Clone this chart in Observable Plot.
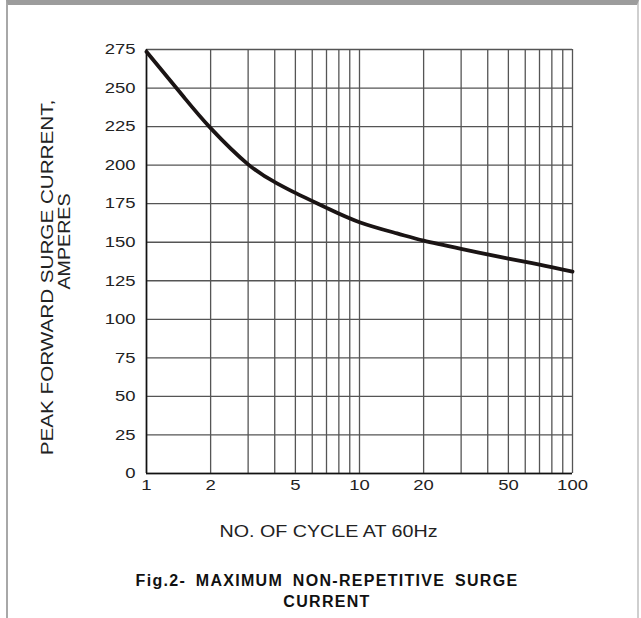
<!DOCTYPE html>
<html>
<head>
<meta charset="utf-8">
<script src="https://cdn.jsdelivr.net/npm/d3@7"></script>
<script src="https://cdn.jsdelivr.net/npm/@observablehq/plot@0.6"></script>
<style>
  html, body { margin: 0; padding: 0; background: #fff; }
  body { width: 641px; height: 618px; position: relative; overflow: hidden; font-family: "Liberation Sans", Arial, sans-serif; }
  #frame { position: absolute; left: 6px; top: 0; width: 629px; height: 640px; border-top: 5px solid #9c9c9c; border-left: 2px solid #a8a8a8; border-right: 2px solid #cfcfcf; pointer-events: none; }
  #chart { position: absolute; left: 0; top: 0; }
  #title { position: absolute; left: 0; width: 654px; top: 570px; text-align: center; font-weight: bold; font-size: 16px; letter-spacing: 1.3px; line-height: 21px; color: #111; }
  #title .w { word-spacing: 4px; }
</style>
</head>
<body>
<div id="chart"></div>
<div id="title"><span class="w">Fig.2-&nbsp;MAXIMUM NON-REPETITIVE SURGE</span><br>CURRENT</div>
<div id="frame"></div>
<script>
const cycles  = [1, 1.5, 2, 3, 4, 5, 7, 10, 15, 20, 30, 50, 70, 100];
const current = [273.5, 244, 224, 200.5, 189, 182, 172.3, 163, 155.7, 151, 145.7, 139.4, 135.5, 131];
const xGrid = [1, 2, 3, 4, 5, 6, 7, 8, 9, 10, 20, 30, 40, 50, 60, 70, 80, 90, 100];
const xTickLabels = [1, 2, 5, 10, 20, 50, 100];
const yTicks = [0, 25, 50, 75, 100, 125, 150, 175, 200, 225, 250, 275];
const xTitle = "NO. OF CYCLE AT 60Hz";
const yTitle1 = "PEAK FORWARD SURGE CURRENT,";
const yTitle2 = "AMPERES";

const data = cycles.map((c, i) => ({c, v: current[i]}));

const chart = Plot.plot({
  width: 641,
  height: 560,
  marginTop: 49,
  marginLeft: 146,
  marginRight: 69,
  marginBottom: 87,
  style: {fontFamily: "'Liberation Sans', Arial, sans-serif", fontSize: "15px", color: "#222", background: "transparent"},
  x: {type: "log", domain: [1, 100], axis: null},
  y: {domain: [0, 275]},
  marks: [
    Plot.ruleX(xGrid, {x: d => d, stroke: "#555", strokeWidth: 1.3}),
    Plot.ruleY(yTicks, {y: d => d, stroke: "#555", strokeWidth: 1.3}),
    Plot.ruleX([1], {stroke: "#111", strokeWidth: 1.6}),
    Plot.ruleY([0], {stroke: "#111", strokeWidth: 1.6}),
    Plot.line(data, {x: "c", y: "v", stroke: "#1a1414", strokeWidth: 3.8, curve: "natural"}),
    Plot.axisY(yTicks, {tickSize: 0, tickPadding: 11, label: null, fontSize: 15, tickFormat: d => d}),
    Plot.text(xTickLabels, {x: d => d, frameAnchor: "bottom", dy: 16, fontSize: 15, text: d => String(d), fill: "#222"}),
    Plot.text([xTitle], {frameAnchor: "bottom", dx: -31, dy: 63, fontSize: 16, text: d => d, fill: "#222"}),
    Plot.text([yTitle1], {frameAnchor: "middle", dx: -312, dy: 16, rotate: -90, fontSize: 16, text: d => d, fill: "#222", className: "ytitle1"}),
    Plot.text([yTitle2], {frameAnchor: "middle", dx: -295, dy: -20, rotate: -90, fontSize: 16, text: d => d, fill: "#222"})
  ]
});
document.getElementById("chart").appendChild(chart);
// stretch glyphs horizontally like the reference's expanded lettering
chart.querySelectorAll("text").forEach(el => {
  const w = el.getComputedTextLength();
  if (w > 0) {
    const k = el.textContent === yTitle1 ? 1.29 : 1.23;
    el.setAttribute("textLength", (w * k).toFixed(1));
    el.setAttribute("lengthAdjust", "spacingAndGlyphs");
  }
});
</script>
</body>
</html>
